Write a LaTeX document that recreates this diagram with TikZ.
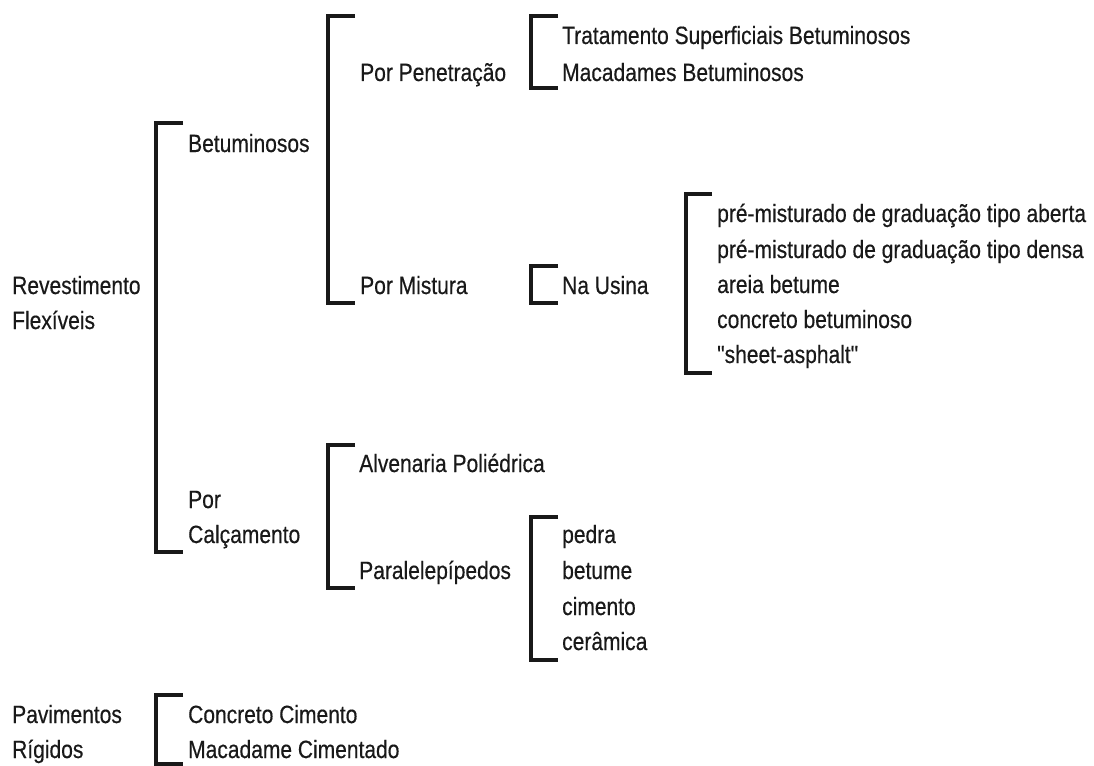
\documentclass[tikz,border=0pt]{standalone}
\usepackage{fontspec}
\newfontfamily\arialc{Liberation Sans}[FakeStretch=0.84,FakeBold=0.4]
\begin{document}
\begin{tikzpicture}[x=1pt,y=-1pt,
  lbl/.style={inner sep=0pt, anchor=base west, font=\arialc\fontsize{25}{30}\selectfont, text=black!90},
  brk/.style={line width=3.3pt, line cap=butt, line join=miter, black!90}]
\useasboundingbox (0,0) rectangle (1094,765);
% level 0
\node[lbl] (rev1) at (12,294) {Revestimento};
\node[lbl] (rev2) at (12,329) {Flexíveis};
\node[lbl] (pav1) at (12,723) {Pavimentos};
\node[lbl] (pav2) at (12,758) {Rígidos};
% level 1
\node[lbl] (bet) at (188,152) {Betuminosos};
\node[lbl] (por) at (188,508) {Por};
\node[lbl] (calc) at (188,543) {Calçamento};
\node[lbl] (cc) at (188,723) {Concreto Cimento};
\node[lbl] (mc) at (188,758) {Macadame Cimentado};
% level 2
\node[lbl] (pen) at (360,81) {Por Penetração};
\node[lbl] (mis) at (360,294) {Por Mistura};
\node[lbl] (alv) at (359,472) {Alvenaria Poliédrica};
\node[lbl] (par) at (359,579) {Paralelepípedos};
% level 3
\node[lbl] (tsb) at (562,44) {Tratamento Superficiais Betuminosos};
\node[lbl] (mb) at (562,81) {Macadames Betuminosos};
\node[lbl] (nu) at (562,294) {Na Usina};
\node[lbl] (ped) at (562,543) {pedra};
\node[lbl] (btm) at (562,579) {betume};
\node[lbl] (cim) at (562,615) {cimento};
\node[lbl] (cer) at (562,650) {cerâmica};
% level 4
\node[lbl] (pa) at (717,222) {pré-misturado de graduação tipo aberta};
\node[lbl] (pd) at (717,258) {pré-misturado de graduação tipo densa};
\node[lbl] (ab) at (717,293) {areia betume};
\node[lbl] (cb) at (717,328) {concreto betuminoso};
\node[lbl] (sa) at (717,363) {"sheet-asphalt"};
% bracket end points
\coordinate (b1t) at (183,123); \coordinate (b1b) at (183,552);
\coordinate (b2t) at (355,16);  \coordinate (b2b) at (355,303);
\coordinate (b3t) at (558,16);  \coordinate (b3b) at (558,88);
\coordinate (b4t) at (558,266); \coordinate (b4b) at (558,303);
\coordinate (b5t) at (712,194); \coordinate (b5b) at (712,373);
\coordinate (b6t) at (355,445); \coordinate (b6b) at (355,588);
\coordinate (b7t) at (558,517); \coordinate (b7b) at (558,660);
\coordinate (b8t) at (183,695); \coordinate (b8b) at (183,764);
% brackets
\draw[brk] (b1t) -- ++(-27,0) |- (b1b);
\draw[brk] (b2t) -- ++(-27,0) |- (b2b);
\draw[brk] (b3t) -- ++(-27,0) |- (b3b);
\draw[brk] (b4t) -- ++(-27,0) |- (b4b);
\draw[brk] (b5t) -- ++(-26,0) |- (b5b);
\draw[brk] (b6t) -- ++(-27,0) |- (b6b);
\draw[brk] (b7t) -- ++(-27,0) |- (b7b);
\draw[brk] (b8t) -- ++(-27,0) |- (b8b);
\end{tikzpicture}
\end{document}
